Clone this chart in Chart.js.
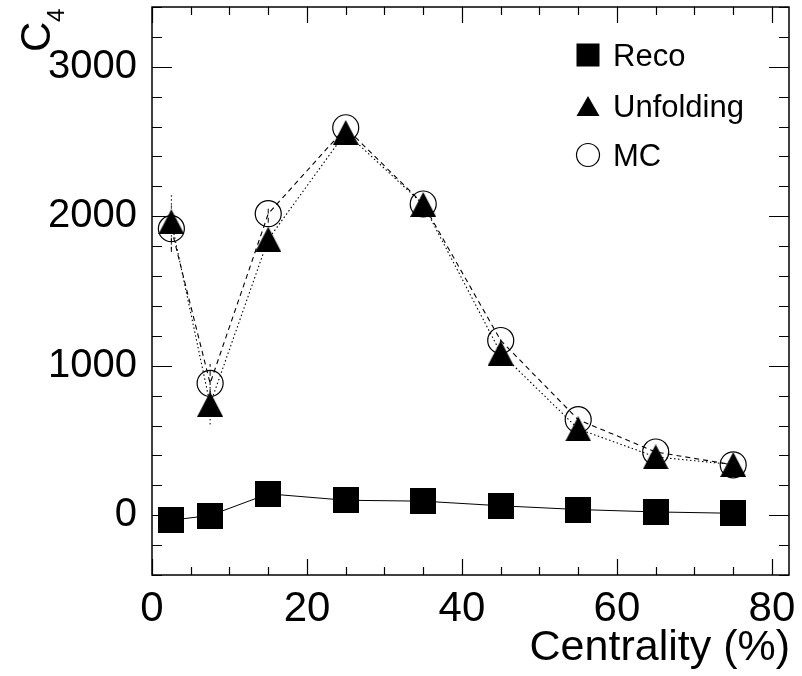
<!DOCTYPE html>
<html>
<head>
<meta charset="utf-8">
<script src="https://cdn.jsdelivr.net/npm/chart.js@4.4.0/dist/chart.umd.min.js"></script>
<style>
  html, body { margin: 0; padding: 0; background: #fff; }
</style>
</head>
<body>
<canvas id="c4Chart" width="802" height="676"></canvas>
<script>
// valores
const centrality = [2.5, 7.5, 15, 25, 35, 45, 55, 65, 75];
const recoC4 = [-33, -2, 143, 100, 94, 63, 38, 22, 13];
const unfoldC4 = [1963, 742, 1846, 2560, 2079, 1085, 577, 390, 339];
const unfoldErr = [180, 135, 40, 30, 25, 25, 20, 15, 15];
const mcC4 = [1917, 882, 2017, 2592, 2082, 1169, 639, 423, 337];
const mcErr = [155, 130, 60, 40, 30, 25, 20, 15, 15];
const xTicks = [0, 20, 40, 60, 80];
const yTicks = [0, 1000, 2000, 3000];

const FONT = "'Liberation Sans', Arial, Helvetica, sans-serif";

function toPoints(ys) {
    return centrality.map((x, i) => ({ x: x, y: ys[i] }));
}

// marcadores tipo ROOT
function makeSquare(s) {
    const c = document.createElement("canvas");
    c.width = s; c.height = s;
    const g = c.getContext("2d");
    g.fillStyle = "#000";
    g.fillRect(0, 0, s, s);
    return c;
}

function makeTriangle(w, h) {
    const c = document.createElement("canvas");
    c.width = w; c.height = h;
    const g = c.getContext("2d");
    g.fillStyle = "#000";
    g.beginPath();
    g.moveTo(w / 2, 0);
    g.lineTo(w, h);
    g.lineTo(0, h);
    g.closePath();
    g.fill();
    return c;
}

const squareImg = makeSquare(26);
const triImg = makeTriangle(26, 25);

// barras de error debajo de los marcadores
const errorBars = {
    id: "errorBars",
    beforeDatasetsDraw(chart) {
        const ctx = chart.ctx;
        const y = chart.scales.y;
        chart.data.datasets.forEach((ds, i) => {
            if (!ds.errors) return;
            const meta = chart.getDatasetMeta(i);
            ctx.save();
            ctx.strokeStyle = "#000";
            ctx.lineWidth = 1;
            ctx.setLineDash(ds.borderDash || []);
            meta.data.forEach((pt, j) => {
                const v = ds.data[j].y;
                ctx.beginPath();
                ctx.moveTo(pt.x, y.getPixelForValue(v - ds.errors[j]));
                ctx.lineTo(pt.x, y.getPixelForValue(v + ds.errors[j]));
                ctx.stroke();
            });
            ctx.restore();
        });
    }
};

// marco, ticks internos, titulos y leyenda
const frame = {
    id: "frame",
    afterDraw(chart) {
        const ctx = chart.ctx;
        const a = chart.chartArea;
        const sx = chart.scales.x;
        const sy = chart.scales.y;
        ctx.save();
        ctx.strokeStyle = "#000";
        ctx.lineWidth = 1.5;
        ctx.strokeRect(a.left, a.top, a.right - a.left, a.bottom - a.top);

        ctx.lineWidth = 1.2;
        ctx.beginPath();
        for (let v = 0; v <= sx.max; v += 5) {
            const px = Math.round(sx.getPixelForValue(v)) + 0.5;
            const len = v % 20 === 0 ? 16 : 8;
            ctx.moveTo(px, a.bottom); ctx.lineTo(px, a.bottom - len);
            ctx.moveTo(px, a.top); ctx.lineTo(px, a.top + len);
        }
        for (let v = sy.min; v <= sy.max; v += 200) {
            const py = Math.round(sy.getPixelForValue(v)) + 0.5;
            const len = v % 1000 === 0 ? 20 : 10;
            ctx.moveTo(a.left, py); ctx.lineTo(a.left + len, py);
            ctx.moveTo(a.right, py); ctx.lineTo(a.right - len, py);
        }
        ctx.stroke();

        ctx.fillStyle = "#000";
        ctx.font = "43px " + FONT;
        ctx.textAlign = "right";
        ctx.textBaseline = "alphabetic";
        ctx.fillText("Centrality (%)", 790, 660);

        // C_4 girado
        ctx.save();
        ctx.translate(50, 52);
        ctx.rotate(-Math.PI / 2);
        ctx.textAlign = "left";
        ctx.font = "42px " + FONT;
        ctx.fillText("C", 0, 0);
        ctx.font = "24px " + FONT;
        ctx.fillText("4", 30, 14);
        ctx.restore();

        // leyenda
        const rows = [66, 117, 166];
        ctx.font = "31px " + FONT;
        ctx.textAlign = "left";
        chart.data.datasets.forEach((ds, i) => {
            const base = rows[i];
            const cx = 588, cy = base - 11;
            ctx.fillStyle = "#000";
            if (ds.label === "Reco") {
                ctx.fillRect(cx - 11.5, cy - 11.5, 23, 23);
            } else if (ds.label === "Unfolding") {
                ctx.beginPath();
                ctx.moveTo(cx, cy - 10);
                ctx.lineTo(cx + 11.5, cy + 10);
                ctx.lineTo(cx - 11.5, cy + 10);
                ctx.closePath();
                ctx.fill();
            } else {
                ctx.lineWidth = 1.2;
                ctx.beginPath();
                ctx.arc(cx, cy, 11.5, 0, Math.PI * 2);
                ctx.stroke();
            }
            ctx.fillText(ds.label, 613, base);
        });
        ctx.restore();
    }
};

const ctx = document.getElementById("c4Chart").getContext("2d");
new Chart(ctx, {
    type: "scatter",
    data: {
        datasets: [{
            label: "Reco",
            data: toPoints(recoC4),
            showLine: true,
            borderColor: "#000",
            borderWidth: 1,
            pointStyle: squareImg,
            pointRadius: 13
        }, {
            label: "Unfolding",
            data: toPoints(unfoldC4),
            errors: unfoldErr,
            showLine: true,
            borderColor: "#000",
            borderWidth: 1.1,
            borderDash: [1.5, 2.5],
            pointStyle: triImg,
            pointRadius: 13
        }, {
            label: "MC",
            data: toPoints(mcC4),
            errors: mcErr,
            showLine: true,
            borderColor: "#000",
            borderWidth: 1.1,
            borderDash: [5, 4],
            pointStyle: "circle",
            pointRadius: 13,
            pointBorderWidth: 1.2,
            pointBorderColor: "#000",
            pointBackgroundColor: "rgba(0,0,0,0)"
        }]
    },
    options: {
        responsive: false,
        animation: false,
        layout: { autoPadding: false, padding: { top: 7, right: 13, left: 0, bottom: 0 } },
        plugins: {
            legend: { display: false },
            tooltip: { enabled: false }
        },
        scales: {
            x: {
                type: "linear",
                min: 0,
                max: 82.2,
                grid: { display: false, drawTicks: false },
                border: { display: false },
                ticks: {
                    autoSkip: false,
                    color: "#000",
                    padding: 9,
                    font: { family: FONT, size: 42 },
                    callback: v => String(v)
                },
                afterBuildTicks: axis => { axis.ticks = xTicks.map(v => ({ value: v })); },
                afterFit: axis => {
                    axis.height = 101;
                    axis.paddingLeft = 0;
                    axis.paddingRight = 0;
                }
            },
            y: {
                type: "linear",
                min: -400,
                max: 3400,
                grid: { display: false, drawTicks: false },
                border: { display: false },
                ticks: {
                    autoSkip: false,
                    color: "#000",
                    padding: 15,
                    font: { family: FONT, size: 40 },
                    callback: v => String(v)
                },
                afterBuildTicks: axis => { axis.ticks = yTicks.map(v => ({ value: v })); },
                afterFit: axis => {
                    axis.width = 152;
                    axis.paddingTop = 0;
                    axis.paddingBottom = 0;
                }
            }
        }
    },
    plugins: [errorBars, frame]
});
</script>
</body>
</html>
